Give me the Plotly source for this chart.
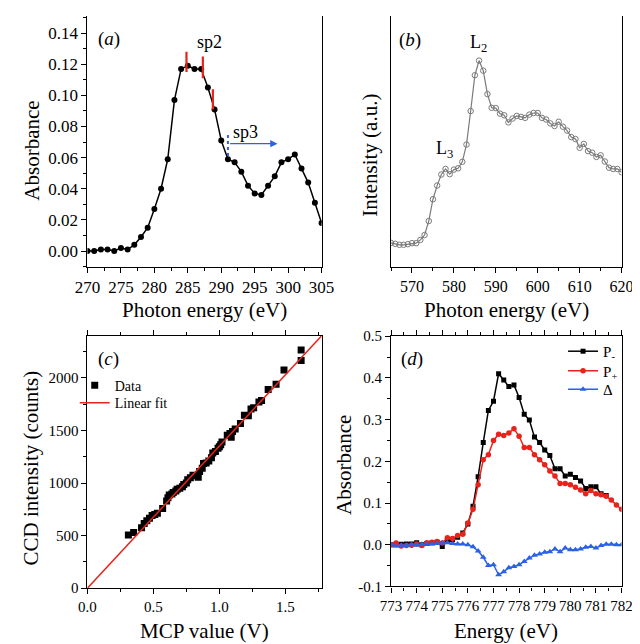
import plotly.graph_objects as go

FONT = "Liberation Serif"
RED = "#e8231b"
BLUE = "#2a62e6"

# ---------------- Panel (a) ----------------
a_energy = list(range(270, 306))
a_absorb = [0.000, 0.000, 0.001, 0.001, 0.000, 0.002, 0.001, 0.004, 0.009, 0.015,
            0.027, 0.040, 0.059, 0.097, 0.117, 0.119, 0.117, 0.117, 0.105, 0.091,
            0.071, 0.059, 0.057, 0.051, 0.042, 0.037, 0.036, 0.042, 0.048, 0.057,
            0.059, 0.062, 0.053, 0.044, 0.031, 0.018]
a_sp2_marks_x = [284.8, 287.25, 288.75]
a_sp2_marks_y0 = [0.115, 0.111, 0.091]
a_sp2_marks_y1 = [0.128, 0.125, 0.104]

# ---------------- Panel (b) ----------------
b_energy = list(range(565, 621))
b_intensity = [0.73, 0.70, 0.67, 0.67, 0.69, 0.72, 0.72, 0.82, 0.97, 1.40,
               2.07, 2.49, 2.83, 3.00, 2.84, 2.98, 3.02, 3.22, 3.75, 4.78,
               5.88, 6.33, 6.02, 5.30, 4.88, 4.87, 4.70, 4.65, 4.43, 4.55,
               4.63, 4.60, 4.57, 4.67, 4.72, 4.72, 4.57, 4.52, 4.40, 4.32,
               4.45, 4.30, 4.18, 3.98, 3.92, 3.65, 3.77, 3.55, 3.50, 3.37,
               3.42, 3.23, 3.04, 3.00, 3.00, 2.90]

# ---------------- Panel (c) ----------------
c_mcp = [0.31, 0.35, 0.41, 0.43, 0.45, 0.47, 0.49, 0.51, 0.53, 0.57,
         0.60, 0.61, 0.62, 0.64, 0.65, 0.67, 0.68, 0.70, 0.72, 0.73,
         0.75, 0.76, 0.78, 0.80, 0.83, 0.84, 0.85, 0.87, 0.88, 0.90,
         0.92, 0.94, 0.95, 0.97, 0.99, 1.00, 1.01, 1.02, 1.06, 1.08,
         1.09, 1.10, 1.12, 1.16, 1.19, 1.22, 1.24, 1.26, 1.30, 1.32,
         1.37, 1.43, 1.49, 1.62, 1.62]
c_ccd = [505, 528, 575, 615, 640, 665, 690, 700, 712, 758,
         830, 860, 885, 895, 910, 925, 940, 950, 965, 985,
         1000, 1030, 1050, 1075, 1070, 1055, 1110, 1140, 1185, 1190,
         1210, 1240, 1285, 1300, 1330, 1345, 1365, 1390, 1455, 1470,
         1435, 1490, 1515, 1565, 1645, 1640, 1705, 1715, 1770, 1785,
         1890, 1940, 2075, 2165, 2265]
c_fit_slope = 1352
c_fit_x = [0.0, 1.8]

# ---------------- Panel (d) ----------------
d_energy = [773.0, 773.2, 773.4, 773.6, 773.8, 774.0, 774.2, 774.4, 774.6, 774.8,
            775.0, 775.2, 775.4, 775.6, 775.8, 776.0, 776.2, 776.4, 776.6, 776.8,
            777.0, 777.2, 777.4, 777.6, 777.8, 778.0, 778.2, 778.4, 778.6, 778.8,
            779.0, 779.2, 779.4, 779.6, 779.8, 780.0, 780.2, 780.4, 780.6, 780.8,
            781.0, 781.2, 781.4, 781.6, 781.8, 782.0]
d_pminus = [0.000, 0.000, 0.001, 0.002, 0.002, 0.005, 0.000, 0.003, 0.005, 0.006,
            -0.004, 0.010, 0.012, 0.018, 0.028, 0.050, 0.092, 0.163, 0.245, 0.322,
            0.344, 0.410, 0.395, 0.379, 0.383, 0.353, 0.313, 0.299, 0.258, 0.245,
            0.227, 0.214, 0.182, 0.182, 0.165, 0.169, 0.161, 0.153, 0.135, 0.139,
            0.139, 0.122, 0.118]
d_pplus = [0.000, 0.004, -0.003, -0.002, -0.001, 0.002, -0.002, 0.005, 0.006, 0.008,
           0.004, 0.017, 0.015, 0.022, 0.025, 0.052, 0.085, 0.144, 0.204, 0.216,
           0.250, 0.265, 0.262, 0.268, 0.278, 0.260, 0.233, 0.233, 0.216, 0.204,
           0.192, 0.177, 0.165, 0.147, 0.147, 0.144, 0.138, 0.131, 0.122, 0.130,
           0.122, 0.120, 0.116, 0.107, 0.095, 0.085]
d_delta = [0.000, -0.003, -0.001, -0.002, 0.000, -0.001, 0.001, 0.001, 0.002, 0.003,
           0.004, 0.005, 0.003, 0.002, 0.002, 0.000, -0.005, -0.015, -0.030, -0.050,
           -0.048, -0.072, -0.065, -0.055, -0.052, -0.048, -0.040, -0.032, -0.025, -0.022,
           -0.018, -0.017, -0.010, -0.017, -0.008, -0.012, -0.012, -0.010, -0.006, -0.004,
           -0.008, -0.002, 0.001, 0.001, 0.000, 0.000]
d_yticks = [-0.1, 0.0, 0.1, 0.2, 0.3, 0.4, 0.5]
d_yticktext = ["-0.1", "0.0", "0.1", "0.2", "0.3", "0.4", "0.5"]

fig = go.Figure()

# (a)
fig.add_trace(go.Scatter(x=a_energy, y=a_absorb, mode="lines+markers",
                         line=dict(color="black", width=1.5),
                         marker=dict(size=6, color="black"),
                         xaxis="x", yaxis="y", showlegend=False))
# (b)
fig.add_trace(go.Scatter(x=b_energy, y=b_intensity, mode="lines+markers",
                         line=dict(color="#7a7a7a", width=1.2),
                         marker=dict(size=5.5, symbol="circle-open", color="#7a7a7a",
                                     line=dict(width=1)),
                         xaxis="x2", yaxis="y2", showlegend=False))
# (c)
fig.add_trace(go.Scatter(x=c_mcp, y=c_ccd, mode="markers", name="Data",
                         marker=dict(size=7, symbol="square", color="black"),
                         xaxis="x3", yaxis="y3", legend="legend"))
fig.add_trace(go.Scatter(x=c_fit_x, y=[c_fit_slope * v for v in c_fit_x], mode="lines",
                         name="Linear fit", line=dict(color=RED, width=1.5),
                         xaxis="x3", yaxis="y3", legend="legend3"))
# (d)
fig.add_trace(go.Scatter(x=d_energy[:len(d_pminus)], y=d_pminus, mode="lines+markers",
                         name="P<sub>-</sub>", line=dict(color="black", width=1.5),
                         marker=dict(size=5, symbol="square", color="black"),
                         xaxis="x4", yaxis="y4", legend="legend2"))
fig.add_trace(go.Scatter(x=d_energy, y=d_pplus, mode="lines+markers",
                         name="P<sub>+</sub>", line=dict(color=RED, width=1.5),
                         marker=dict(size=5.5, symbol="circle", color=RED),
                         xaxis="x4", yaxis="y4", legend="legend4"))
fig.add_trace(go.Scatter(x=d_energy, y=d_delta, mode="lines+markers",
                         name="Δ", line=dict(color=BLUE, width=1.5),
                         marker=dict(size=6, symbol="triangle-up", color=BLUE),
                         xaxis="x4", yaxis="y4", legend="legend5"))


def axis(size=16, **kw):
    base = dict(showline=True, linecolor="black", linewidth=1.2, ticks="outside",
                ticklen=5, tickwidth=1.2, tickcolor="black", showgrid=False,
                zeroline=False, tickangle=0,
                tickfont=dict(family=FONT, size=size, color="black"))
    base.update(kw)
    return base


def minor(dt):
    return dict(ticks="outside", ticklen=3, tickwidth=1, tickcolor="black", dtick=dt,
                showgrid=False)


PX_W, PX_H = 640, 644


def px(x):
    return x / PX_W


def py(y):
    return 1 - y / PX_H


def leg(x, y, size):
    return dict(x=px(x), y=py(y), xanchor="left", yanchor="middle",
                bgcolor="rgba(0,0,0,0)", borderwidth=0,
                font=dict(family=FONT, size=size, color="black"))


xa = [px(69.3), px(313.3)]
xb = [px(385.7), px(626.0)]
ytop = [py(257.0), 1.0]
ybot_c = [py(586.7), py(328.0)]
ybot_d = [py(585.0), py(328.3)]

fig.update_layout(
    width=PX_W, height=PX_H, autosize=False,
    margin=dict(l=0, r=0, t=0, b=0),
    paper_bgcolor="white", plot_bgcolor="white",
    font=dict(family=FONT, color="black"),
    xaxis=axis(17, domain=xa, anchor="y", range=[270, 305], tick0=270, dtick=5,
               minor=minor(2.5), mirror=False),
    yaxis=axis(17, domain=ytop, anchor="x", range=[-0.01, 0.151], tick0=0, dtick=0.02,
               tickformat=".2f", minor=minor(0.01), mirror=True),
    xaxis2=axis(16, domain=xb, anchor="y2", range=[565, 620], tick0=570, dtick=10,
                minor=minor(5), mirror=False),
    yaxis2=axis(16, domain=ytop, anchor="x2", range=[0, 7.7], ticks="",
                showticklabels=False, mirror=True),
    xaxis3=axis(15, domain=xa, anchor="y3", range=[0, 1.775], tick0=0, dtick=0.5,
                tickformat=".1f", minor=minor(0.25), mirror="ticks"),
    yaxis3=axis(15, domain=ybot_c, anchor="x3", range=[0, 2400], tick0=0, dtick=500,
                minor=minor(250), mirror=True),
    xaxis4=axis(15, domain=xb, anchor="y4", range=[773, 782], tick0=773, dtick=1,
                minor=minor(0.5), mirror="ticks"),
    yaxis4=axis(15, domain=ybot_d, anchor="x4", range=[-0.1, 0.5],
                tickvals=d_yticks, ticktext=d_yticktext, minor=minor(0.05), mirror=True),
    legend=leg(56, 379, 14),
    legend3=leg(56, 397, 14),
    legend2=leg(565, 344, 15),
    legend4=leg(565, 364, 15),
    legend5=leg(565, 383, 15),
)

# red sp2 marks and blue sp3 marker in (a)
for xm, y0, y1 in zip(a_sp2_marks_x, a_sp2_marks_y0, a_sp2_marks_y1):
    fig.add_shape(type="line", xref="x", yref="y", x0=xm, x1=xm, y0=y0, y1=y1,
                  line=dict(color=RED, width=2.2))
fig.add_shape(type="line", xref="x", yref="y", x0=291, x1=291, y0=0.061, y1=0.075,
              line=dict(color=BLUE, width=2, dash="dot"))

ann = []


def txt(text, x, y, xref, yref, size, **kw):
    d = dict(text=text, x=x, y=y, xref=xref, yref=yref, showarrow=False,
             font=dict(family=FONT, size=size, color="black"),
             xanchor="center", yanchor="middle")
    d.update(kw)
    ann.append(d)


# arrow in (a)
ann.append(dict(x=298.4, y=0.069, ax=291.1, ay=0.069, xref="x", yref="y",
                axref="x", ayref="y", text="", showarrow=True, arrowhead=2,
                arrowsize=1.2, arrowwidth=1.2, arrowcolor=BLUE))

txt("(<i>a</i>)", 273.2, 0.136, "x", "y", 19)
txt("sp2", 288.3, 0.1345, "x", "y", 18)
txt("sp3", 293.7, 0.0765, "x", "y", 18)
txt("(<i>b</i>)", 569.6, 6.95, "x2", "y2", 19)
txt("L<sub>2</sub>", 585.9, 6.85, "x2", "y2", 18)
txt("L<sub>3</sub>", 577.8, 3.6, "x2", "y2", 18)
txt("(<i>c</i>)", 0.163, 2180, "x3", "y3", 19)
txt("(<i>d</i>)", 773.8, 0.445, "x4", "y4", 19)

# axis titles
txt("Photon energy (eV)", px(191.3), py(301), "paper", "paper", 21)
txt("Absorbance", px(10.5), py(138), "paper", "paper", 21, textangle=-90)
txt("Photon energy (eV)", px(505.8), py(301), "paper", "paper", 21)
txt("Intensity (a.u.)", px(364), py(143), "paper", "paper", 21, textangle=-90)
txt("MCP value (V)", px(191.5), py(631), "paper", "paper", 21)
txt("CCD intensity (counts)", px(10.5), py(464), "paper", "paper", 21, textangle=-90)
txt("Energy (eV)", px(505.5), py(631), "paper", "paper", 21)
txt("Absorbance", px(336), py(460), "paper", "paper", 21, textangle=-90)

fig.update_layout(annotations=ann)

fig.write_html("out.html")
